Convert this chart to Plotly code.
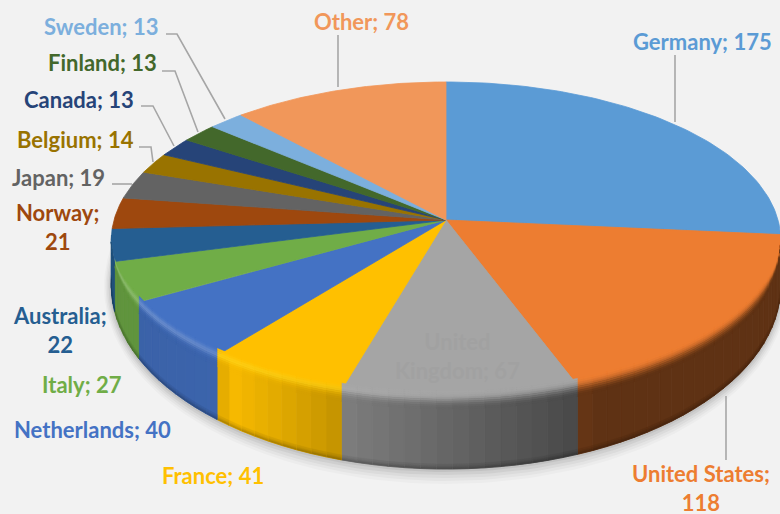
import math
import numpy as np
import plotly.graph_objects as go

# ---- data ----
countries = ["Germany", "United States", "United Kingdom", "France", "Netherlands", "Italy", "Australia",
             "Norway", "Japan", "Belgium", "Canada", "Finland", "Sweden", "Other"]
values = [175, 118, 67, 41, 40, 27, 22, 21, 19, 14, 13, 13, 13, 78]

# ---- styles ----
colors = ["#5B9BD5", "#ED7D31", "#A5A5A5", "#FFC000", "#4472C4", "#70AD47", "#255E91",
          "#9E480E", "#636363", "#997300", "#264478", "#43682B", "#7CAFDD", "#F1975A"]
label_text = ["Germany; 175", "United States;<br>118", "United<br>Kingdom; 67", "France; 41", "Netherlands; 40",
              "Italy; 27", "Australia;<br>22", "Norway;<br>21", "Japan; 19", "Belgium; 14", "Canada; 13",
              "Finland; 13", "Sweden; 13", "Other; 78"]
label_x = [702, 701, 457, 213, 92, 82, 60, 57, 58, 75, 79, 102, 101, 361]
label_y = [41, 488, 356, 475, 429, 384, 330, 227, 177, 139, 99, 62, 26, 21]
label_color = list(colors)
label_color[2] = "#A1A1A1"
leaders = [[(166, 34), (177, 34), (225, 119)], [(162, 71), (175, 71), (198, 132)],
           [(141, 106), (153, 106), (174, 146)], [(139, 147), (151, 147), (153, 162)],
           [(112, 184), (132, 184)], [(338, 35), (338, 87)], [(675, 55), (675, 122)],
           [(726, 396), (726, 460)]]
BG = "#F2F2F2"

# geometry of the tilted disc in plot units
CX, CY = 446.0, 220.0
A, B, K = 332.0, 155.5, -0.1266
EY, ERY, ERX = 240.0, 158.0, 335.0
BY, BRY = 286.0, 183.0


def project(theta):
    u, v = np.sin(theta), -np.cos(theta)
    d = 1 + K * v
    return CX + A * u / d, CY + B * v / d


def bottom_y(y):
    c = (y - EY) / ERY
    return BY + BRY * c


def hex_rgb(h):
    return np.array([int(h[i:i + 2], 16) for i in (1, 3, 5)], float)


def css(c):
    c = np.clip(c, 0, 255)
    return "rgb(%d,%d,%d)" % tuple(int(round(v)) for v in c)


def poly(fig, xs, ys, color, opacity=None, lw=0.8):
    xs, ys = list(xs), list(ys)
    tr = go.Scatter(x=xs + xs[:1], y=ys + ys[:1], mode="lines", fill="toself", fillcolor=color,
                    line=dict(color=color, width=lw), hoverinfo="skip", showlegend=False)
    if opacity is not None:
        tr.opacity = opacity
    fig.add_trace(tr)


def side_factor(x):
    return float(np.interp(x, [110, 220, 232, 343, 575, 600, 780],
                           [0.85, 0.88, 0.97, 0.76, 0.44, 0.40, 0.40]))


def highlight(x):
    return float(np.interp(x, [110, 343, 575, 600], [0.40, 0.22, 0.05, 0.0]))


fig = go.Figure()
total = sum(values)
edges = np.cumsum([0] + values) / total * 2 * math.pi

# soft ground shadow
phi = np.linspace(0, 2 * math.pi, 181)
for grow, op in [(14, 0.025), (11, 0.03), (8, 0.04), (5, 0.05), (2, 0.06)]:
    poly(fig, CX + (ERX + grow * 0.5) * np.sin(phi), BY + 1 + (BRY + grow) * np.cos(phi), "#000000", op, 0)

# wall, strip by strip
arcs = []
for i, col in enumerate(colors):
    n = max(2, int(math.degrees(edges[i + 1] - edges[i]) / 2.5) + 1)
    arcs.append(np.linspace(edges[i], edges[i + 1], n + 1))

foot = [(-5, -3, 0.93), (-3, -1.5, 0.86), (-1.5, 0, 0.76)]
for i, col in enumerate(colors):
    base = hex_rgb(col)
    for t0, t1 in zip(arcs[i][:-1], arcs[i][1:]):
        x0, y0 = project(t0)
        x1, y1 = project(t1)
        if y0 < EY and y1 < EY:
            continue
        f = side_factor((x0 + x1) / 2)
        yb0, yb1 = bottom_y(y0), bottom_y(y1)
        poly(fig, [x0, x1, x1, x0], [y0, y1, yb1, yb0], css(base * f))
        for a, b, m in foot:
            poly(fig, [x0, x1, x1, x0], [yb0 + a, yb1 + a, yb1 + b, yb0 + b], css(base * f * m), None, 0.4)

# top face
for i, col in enumerate(colors):
    xs, ys = project(np.linspace(edges[i], edges[i + 1], 80))
    poly(fig, [CX] + list(xs), [CY] + list(ys), col)

# rounded rim between top face and wall
offs = np.arange(-7, 12, 2.0)
for i, col in enumerate(colors):
    base = hex_rgb(col)
    for t0, t1 in zip(arcs[i][:-1], arcs[i][1:]):
        x0, y0 = project(t0)
        x1, y1 = project(t1)
        if y0 < EY or y1 < EY:
            continue
        xm = (x0 + x1) / 2
        f = side_factor(xm)
        h = highlight(xm)
        s0 = min(1.0, (y0 - EY) / ERY * 3)
        s1 = min(1.0, (y1 - EY) / ERY * 3)
        for a, b in zip(offs[:-1], offs[1:]):
            m = (a + b) / 2
            p = float(np.clip((m + 6) / 16, 0, 1))
            w = p * p * (3 - 2 * p)
            hl = math.exp(-((m + 0.5) / 3.5) ** 2)
            c = base * (1 - w) + base * f * w
            tint = np.array([255, 240, 60.0]) if i == 3 else np.array([255, 255, 255.0])
            c = c + (tint - c) * hl * h * (1.0 if i == 3 else 0.55)
            poly(fig, [x0, x1, x1, x0], [y0 + a * s0, y1 + a * s1, y1 + b * s1, y0 + b * s0], css(c), None, 0.4)

# leader lines
for pts in leaders:
    fig.add_trace(go.Scatter(x=[p[0] for p in pts], y=[p[1] for p in pts], mode="lines",
                             line=dict(color="#A6A6A6", width=1.6), hoverinfo="skip", showlegend=False))

for name, t, x, y, c in zip(countries, label_text, label_x, label_y, label_color):
    fig.add_annotation(x=x, y=y, xref="x", yref="y", text="<b>%s</b>" % t, showarrow=False, align="center",
                       xanchor="center", yanchor="middle", font=dict(family="Lato", size=22, color=c))

fig.update_layout(width=780, height=514, margin=dict(l=0, r=0, t=0, b=0), paper_bgcolor=BG, plot_bgcolor=BG,
                  showlegend=False, hovermode=False,
                  xaxis=dict(range=[0, 780], visible=False, fixedrange=True),
                  yaxis=dict(range=[514, 0], visible=False, fixedrange=True))
fig.write_html("out.html", config={"displayModeBar": False},
               post_script="document.body.style.margin='0';document.body.style.background='%s';" % BG)
